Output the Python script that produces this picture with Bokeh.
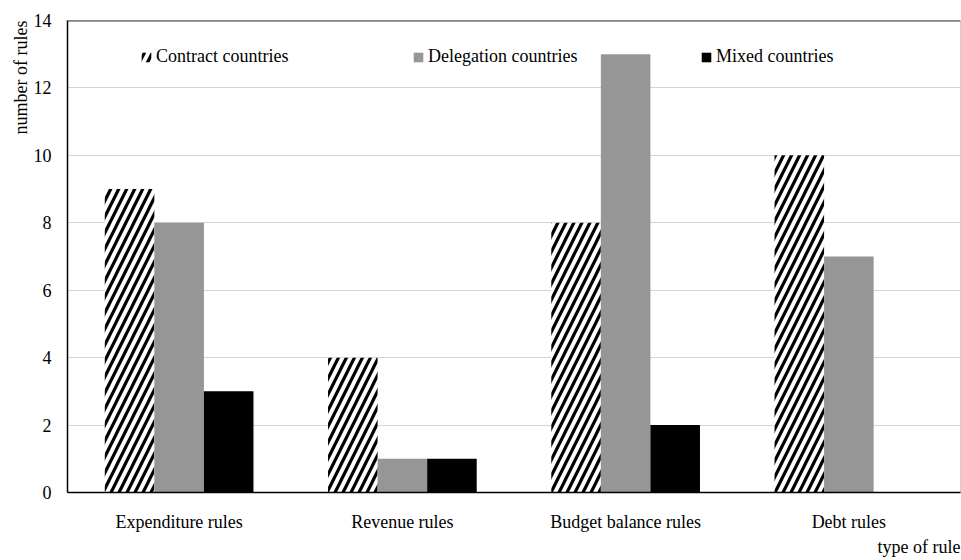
from bokeh.plotting import figure
from bokeh.models import (ColumnDataSource, FactorRange, Legend, LegendItem, Title,
                          Span, SingleIntervalTicker)
from bokeh.transform import dodge
from bokeh.embed import file_html
from bokeh.resources import INLINE

categories = ["Expenditure rules", "Revenue rules", "Budget balance rules", "Debt rules"]
contract = [9, 4, 8, 10]
delegation = [8, 1, 13, 7]
mixed = [3, 1, 2, 0]
series_names = ["Contract countries", "Delegation countries", "Mixed countries"]
y_label = "number of rules"
x_label = "type of rule"

FONT = "Liberation Serif"

source = ColumnDataSource(dict(cat=categories, contract=contract,
                               delegation=delegation, mixed=mixed))

p = figure(x_range=FactorRange(factors=categories, range_padding=0),
           y_range=(0, 14), width=961, height=560,
           output_backend="svg", toolbar_location=None,
           min_border_left=67, min_border_right=1, min_border_top=20,
           min_border_bottom=68)

bw = 0.222
r1 = p.vbar(x=dodge("cat", -bw, range=p.x_range), top="contract", width=bw,
            source=source, fill_color="white", line_color=None,
            hatch_pattern="/", hatch_color="black", hatch_scale=16, hatch_weight=3.2)
r2 = p.vbar(x=dodge("cat", 0, range=p.x_range), top="delegation", width=bw,
            source=source, fill_color="#969696", line_color=None)
r3 = p.vbar(x=dodge("cat", bw, range=p.x_range), top="mixed", width=bw,
            source=source, fill_color="black", line_color=None)

# axes
p.yaxis.ticker = SingleIntervalTicker(interval=2)
for ax in (p.xaxis[0], p.yaxis[0]):
    ax.major_label_text_font = FONT
    ax.major_label_text_font_size = "18px"
    ax.major_label_text_color = "black"
    ax.major_tick_line_color = None
    ax.minor_tick_line_color = None
    ax.axis_line_color = "black"
    ax.axis_line_width = 1.5
p.yaxis.major_label_standoff = 10
p.xaxis.major_label_standoff = 13

p.xgrid.grid_line_color = None
p.ygrid.grid_line_color = "#d4d4d4"
p.ygrid.grid_line_width = 1
p.outline_line_color = "#cfcfcf"
p.outline_line_width = 1

p.add_layout(Span(location=14, dimension="width", line_color="#3a3a3a", line_width=2))

# legends
leg_x = [73, 345, 633]
for name, r, lx in zip(series_names, [r1, r2, r3], leg_x):
    leg = Legend(items=[LegendItem(label=name, renderers=[r])],
                 location=(lx, 425), orientation="horizontal",
                 padding=0, margin=0, spacing=0,
                 glyph_width=12, glyph_height=12, label_standoff=4,
                 label_height=12, border_line_color=None,
                 background_fill_alpha=0,
                 label_text_font=FONT, label_text_font_size="18px",
                 label_text_color="black")
    p.add_layout(leg, "center")

# axis titles
p.add_layout(Title(text=y_label, align="right", text_font=FONT,
                   text_font_size="18px", text_font_style="normal",
                   text_color="black", standoff=0, offset=0), "left")
p.add_layout(Title(text=x_label, align="right", text_font=FONT,
                   text_font_size="18px", text_font_style="normal",
                   text_color="black", standoff=0), "below")

open("out.html", "w").write(file_html(p, INLINE))
